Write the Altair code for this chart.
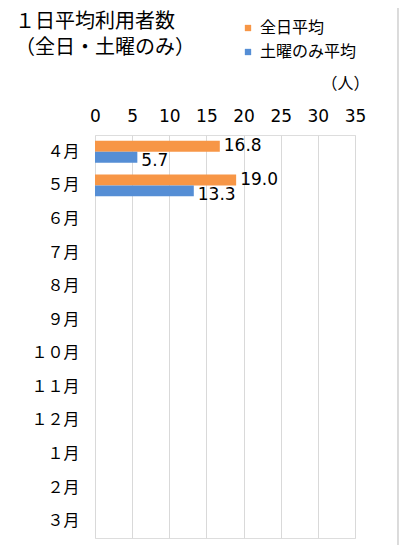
import altair as alt
import pandas as pd

months = ["４月", "５月", "６月", "７月", "８月", "９月", "１０月", "１１月", "１２月", "１月", "２月", "３月"]
series = ["全日平均", "土曜のみ平均"]
all_day = [16.8, 19.0, None, None, None, None, None, None, None, None, None, None]
saturday = [5.7, 13.3, None, None, None, None, None, None, None, None, None, None]
x_ticks = [0, 5, 10, 15, 20, 25, 30, 35]
colors = ["#F79646", "#558ED5"]

rows = []
for m, a, s in zip(months, all_day, saturday):
    if a is not None:
        rows.append({"month": m, "series": series[0], "value": a})
    if s is not None:
        rows.append({"month": m, "series": series[1], "value": s})
df = pd.DataFrame(rows)

JP = "Noto Sans CJK JP"
NUM = "DejaVu Sans"

y_enc = alt.Y("month:N", sort=months,
              scale=alt.Scale(domain=months, paddingInner=0.345, paddingOuter=0.1725),
              axis=alt.Axis(title=None, labelFont=JP, labelFontSize=16, labelColor="#000",
                            labelPadding=16, ticks=False, domain=False, grid=False))
x_enc = alt.X("value:Q", scale=alt.Scale(domain=[0, 35], nice=False, zero=True),
              axis=alt.Axis(orient="top", values=x_ticks, tickCount=8, title="（人）", titleFont=JP,
                            titleFontSize=16, titleFontWeight="normal", titleColor="#000",
                            titleX=250, titleY=-52, titleAngle=0, titleAlign="center",
                            titleBaseline="middle",
                            labelFont=NUM, labelFontSize=17, labelColor="#000",
                            labelOverlap=False, labelBound=False, labelFlush=False,
                            labelPadding=10, ticks=False, domain=False,
                            grid=True, gridColor="#d9d9d9", gridWidth=1))
yoff = alt.YOffset("series:N", sort=series, scale=alt.Scale(domain=series, paddingInner=0))

base = alt.Chart(df)

bars = base.mark_bar().encode(
    y=y_enc,
    x=x_enc,
    yOffset=yoff,
    color=alt.Color("series:N", sort=series,
                    scale=alt.Scale(domain=series, range=colors),
                    legend=alt.Legend(title=None, orient="none", legendX=145, legendY=-115,
                                      symbolType="square", symbolSize=40, symbolStrokeWidth=0,
                                      labelFont=JP, labelFontSize=16, labelColor="#000",
                                      labelOffset=4, rowPadding=8, padding=0)),
)

lab_all = base.transform_filter(alt.datum.series == series[0]).mark_text(
    align="left", baseline="middle", dx=4, font=NUM, fontSize=17, color="#000"
).encode(
    y=y_enc, x=x_enc, yOffset=yoff,
    text=alt.Text("value:Q", format=".1f"),
)
lab_sat = base.transform_filter(alt.datum.series == series[1]).mark_text(
    align="left", baseline="middle", dx=4, dy=4, font=NUM, fontSize=17, color="#000"
).encode(
    y=y_enc, x=x_enc, yOffset=yoff,
    text=alt.Text("value:Q", format=".1f"),
)

border = alt.Chart(df).mark_rule(color="#d9d9d9", strokeWidth=1).encode(
    x=alt.value(303), y=alt.value(-127), y2=alt.value(420)
)

chart = alt.layer(bars, lab_all, lab_sat, border).properties(
    width=260, height=403,
    autosize=alt.AutoSizeParams(type="none"),
    padding={"left": 87, "top": 127, "right": 44, "bottom": 7},
    title=alt.TitleParams(text=["１日平均利用者数", "（全日・土曜のみ）"], anchor="start",
                          font=JP, fontSize=20, fontWeight="normal", color="#000",
                          dx=-80, dy=54, lineHeight=26, frame="group"),
).configure_view(stroke=None).configure(background="white")

chart.save("out.html", embed_options={"renderer": "svg", "actions": False})
